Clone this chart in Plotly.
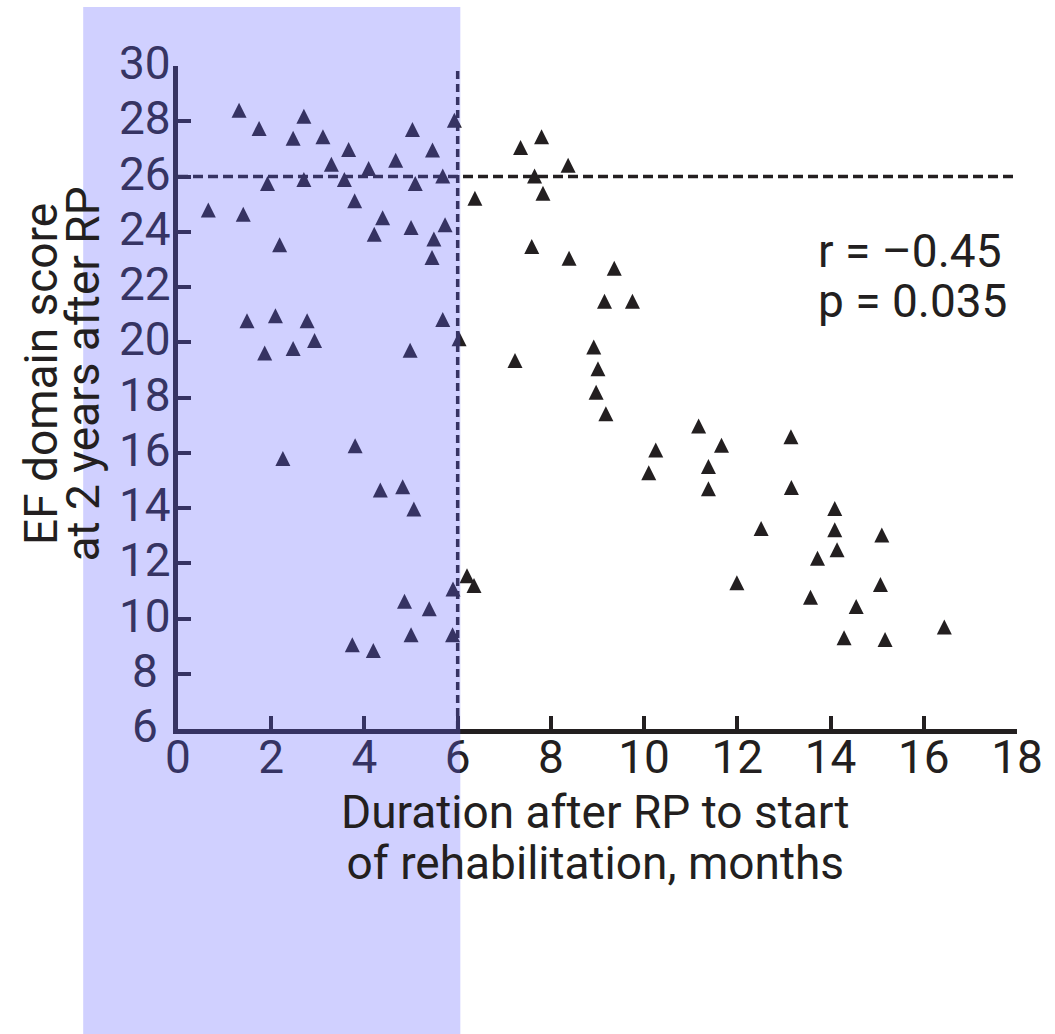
import plotly.graph_objects as go

# ---- data ----
duration_months = [
    1.31, 1.74, 2.70, 2.47, 3.11, 3.66, 3.29, 4.09, 4.67, 5.03, 5.46, 5.93,
    1.92, 2.70, 3.57, 5.09, 5.68, 3.79, 0.65, 1.40, 4.39, 4.21, 5.00, 5.73,
    5.49, 5.45, 2.18, 1.48, 2.09, 2.77, 1.86, 2.47, 2.93, 4.98, 5.68, 6.03,
    2.25, 3.80, 4.34, 4.82, 5.06, 4.86, 5.39, 5.90, 5.00, 5.89, 3.74, 4.19,
    6.20, 6.35,
    7.80, 7.35, 8.37, 7.65, 7.83, 6.37, 7.59, 8.39, 9.36, 9.15, 9.75, 7.23,
    8.92, 9.01, 8.97, 9.18, 11.17, 13.15, 10.25, 11.66, 11.38, 10.10, 11.38,
    13.16, 14.09, 12.51, 14.09, 15.10, 14.14, 13.72, 11.99, 15.07, 13.57,
    14.55, 16.44, 14.29, 15.17,
]
ef_score = [
    28.31, 27.65, 28.09, 27.29, 27.35, 26.89, 26.35, 26.20, 26.50, 27.61, 26.87, 27.95,
    25.66, 25.80, 25.80, 25.66, 25.93, 25.03, 24.70, 24.54, 24.42, 23.82, 24.06, 24.16,
    23.65, 22.98, 23.44, 20.69, 20.87, 20.69, 19.52, 19.68, 19.97, 19.62, 20.73, 20.04,
    15.70, 16.16, 14.56, 14.68, 13.87, 10.53, 10.26, 10.98, 9.32, 9.32, 8.96, 8.75,
    11.46, 11.10,
    27.35, 26.96, 26.32, 25.93, 25.30, 25.12, 23.38, 22.95, 22.59, 21.39, 21.39, 19.25,
    19.74, 18.95, 18.10, 17.32, 16.88, 16.49, 16.01, 16.18, 15.41, 15.19, 14.61,
    14.65, 13.89, 13.17, 13.12, 12.93, 12.40, 12.09, 11.20, 11.14, 10.68,
    10.34, 9.60, 9.21, 9.15,
]

EF_CUTOFF = 26          # horizontal dashed reference line
REHAB_CUTOFF = 6        # vertical dashed reference line / shaded window end
x_ticks = list(range(0, 19, 2))
y_ticks = list(range(6, 31, 2))
x_range = [0, 18]
y_range = [6, 30]
x_title_lines = ["Duration after RP to start", "of rehabilitation, months"]
y_title_lines = ["EF domain score", "at 2 years after RP"]
stat_lines = ["r = \u20130.45", "p = 0.035"]

INK_RGB = (35, 31, 32)
OVERLAY_RGB = (100, 100, 255)
OVERLAY_ALPHA = 0.30
INK = "rgb(%d,%d,%d)" % INK_RGB
# ink as seen through the translucent overlay (for text drawn above it)
INK_TINT = "rgb(%d,%d,%d)" % tuple(
    round((1 - OVERLAY_ALPHA) * a + OVERLAY_ALPHA * b) for a, b in zip(INK_RGB, OVERLAY_RGB))
FONT = "Roboto"
TEXT_PX = 46
Y_LABEL_X = -0.039      # centre of the (centre-aligned) y tick labels, paper units


def block(lines):
    """Multi-line text with glyphs at TEXT_PX; line pitch set by annotation font size."""
    return "<br>".join(f'<span style="font-size:{TEXT_PX}px">{t}</span>' for t in lines)


fig = go.Figure()
fig.add_trace(go.Scatter(
    x=duration_months, y=ef_score, mode="markers",
    marker=dict(symbol="arrow-down", angle=180, standoff=10, size=15,
                color=INK, line=dict(width=0)),
    showlegend=False, hoverinfo="skip",
))

# dashed reference lines
fig.add_shape(type="line", xref="x", yref="y",
              x0=x_range[0], x1=x_range[1], y0=EF_CUTOFF, y1=EF_CUTOFF,
              line=dict(color=INK, width=3.5, dash="10px,5px"), layer="below")
fig.add_shape(type="line", xref="x", yref="y",
              x0=REHAB_CUTOFF, x1=REHAB_CUTOFF, y0=y_range[0], y1=y_range[1],
              line=dict(color=INK, width=3.5, dash="8px,5px"), layer="below")

# shaded early-rehabilitation window (overlay)
fig.add_shape(type="rect", xref="paper", yref="paper",
              x0=-0.113, x1=0.3365, y0=-0.46, y1=1.089,
              fillcolor="rgb(%d,%d,%d)" % OVERLAY_RGB, opacity=OVERLAY_ALPHA,
              line=dict(width=0), layer="above")

axis_common = dict(
    showgrid=False, zeroline=False, showline=True, linewidth=4.5, linecolor=INK,
    ticks="inside", ticklen=13, tickwidth=3.5, tickcolor=INK,
    tickfont=dict(family=FONT, size=TEXT_PX, color=INK),
)
fig.update_xaxes(range=x_range, tickvals=x_ticks, ticklabelstandoff=-16, **axis_common)
fig.update_yaxes(range=y_range, tickvals=y_ticks, showticklabels=False, **axis_common)

# centre-aligned y tick labels (as in the reference), placed on the y scale
for v in y_ticks:
    fig.add_annotation(text=str(v), xref="paper", yref="y", x=Y_LABEL_X, y=v,
                       xanchor="center", yanchor="middle", yshift=3, showarrow=False,
                       font=dict(family=FONT, size=TEXT_PX, color=INK_TINT))

# x-axis title (two lines)
fig.add_annotation(text=block(x_title_lines), xref="paper", yref="paper",
                   x=0.498, y=-0.163, xanchor="center", yanchor="middle",
                   align="center", showarrow=False,
                   font=dict(family=FONT, size=39, color=INK))
# y-axis title (two lines, rotated, pitch ~41px)
fig.add_annotation(text=block(y_title_lines), xref="paper", yref="paper",
                   x=-0.138, y=0.535, xanchor="center", yanchor="middle",
                   align="center", textangle=-90, showarrow=False,
                   font=dict(family=FONT, size=32, color=INK))
# statistics (pitch ~50px)
fig.add_annotation(text=block(stat_lines), xref="paper", yref="paper",
                   x=0.760, y=0.683, xanchor="left", yanchor="middle",
                   align="left", showarrow=False,
                   font=dict(family=FONT, size=38.5, color=INK))

fig.update_layout(
    width=1055, height=1034,
    margin=dict(l=178, r=35, t=66, b=305),
    paper_bgcolor="white", plot_bgcolor="white",
    font=dict(family=FONT, color=INK),
    showlegend=False,
)

fig.write_html("out.html")
